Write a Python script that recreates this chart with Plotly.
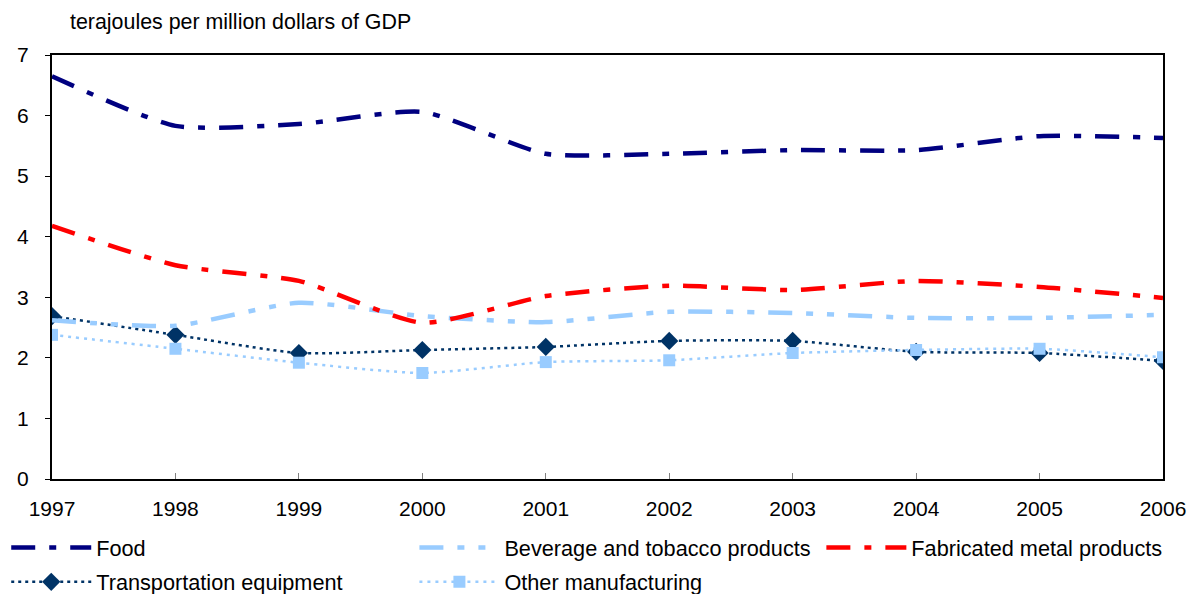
import plotly.graph_objects as go

years = [1997, 1998, 1999, 2000, 2001, 2002, 2003, 2004, 2005, 2006]
food = [6.65, 5.83, 5.86, 6.06, 5.37, 5.37, 5.43, 5.43, 5.66, 5.63]
beverage = [2.62, 2.53, 2.91, 2.69, 2.59, 2.76, 2.74, 2.66, 2.66, 2.71]
fabricated = [4.18, 3.53, 3.27, 2.58, 3.02, 3.19, 3.12, 3.27, 3.17, 2.99]
transport = [2.69, 2.38, 2.08, 2.13, 2.18, 2.28, 2.28, 2.10, 2.08, 1.95]
other = [2.38, 2.15, 1.92, 1.75, 1.93, 1.96, 2.08, 2.13, 2.15, 2.01]
tick_years = [str(y) for y in years]

FONT = "Liberation Sans, Arial, sans-serif"
LDASH = "24px,14px,7px,14px"
LDDASH = "24px,14px,7px,14px,7px,14px"
SM = 0.6

fig = go.Figure()
fig.add_trace(go.Scatter(x=years, y=food, name="Food", mode="lines",
                         line=dict(color="#000080", width=4.5, dash=LDASH, shape="spline", smoothing=SM),
                         legend="legend", legendgroup="a"))
fig.add_trace(go.Scatter(x=years, y=transport, name="Transportation equipment", mode="lines+markers",
                         line=dict(color="#003366", width=2.5, dash="3px,4px", shape="spline", smoothing=SM),
                         marker=dict(symbol="diamond", size=14, color="#003366"),
                         legend="legend", legendgroup="b"))
fig.add_trace(go.Scatter(x=years, y=beverage, name="Beverage and tobacco products", mode="lines",
                         line=dict(color="#99CCFF", width=4.5, dash=LDDASH, shape="spline", smoothing=SM),
                         legend="legend2", legendgroup="c"))
fig.add_trace(go.Scatter(x=years, y=other, name="Other manufacturing", mode="lines+markers",
                         line=dict(color="#99CCFF", width=2.5, dash="3px,5px", shape="spline", smoothing=SM),
                         marker=dict(symbol="square", size=12, color="#99CCFF"),
                         legend="legend2", legendgroup="d"))
fig.add_trace(go.Scatter(x=years, y=fabricated, name="Fabricated metal products", mode="lines",
                         line=dict(color="#FF0000", width=4.5, dash=LDASH, shape="spline", smoothing=SM),
                         legend="legend3", legendgroup="e"))

leg_common = dict(orientation="v", yanchor="top", y=-0.1132, xanchor="left",
                  font=dict(family=FONT, size=21.7, color="#000000"),
                  bgcolor="rgba(0,0,0,0)", tracegroupgap=3, itemwidth=80,
                  traceorder="grouped")

fig.update_layout(
    width=1190, height=594,
    margin=dict(l=52, r=27, t=55, b=115, autoexpand=False),
    paper_bgcolor="white", plot_bgcolor="white",
    font=dict(family=FONT, size=21, color="#000000"),
    showlegend=True,
    legend=dict(x=-0.0412, **leg_common),
    legend2=dict(x=0.3262, **leg_common),
    legend3=dict(x=0.6925, **leg_common),
    xaxis=dict(range=[1997, 2006], tickmode="array", tickvals=years, ticktext=tick_years,
               showgrid=False, zeroline=False, showline=True, linecolor="#000000", linewidth=2,
               mirror=True, ticks="inside", ticklen=6, tickcolor="#808080", tickwidth=1,
               ticklabelstandoff=10, tickfont=dict(family=FONT, size=21)),
    yaxis=dict(range=[0, 7], dtick=1, showgrid=False, zeroline=False, showline=True,
               linecolor="#000000", linewidth=2, mirror=True, ticks="outside", ticklen=5,
               tickcolor="#000000", ticklabelstandoff=12, tickfont=dict(family=FONT, size=21)),
    annotations=[dict(text="terajoules per million dollars of GDP", xref="paper", yref="paper",
                      x=0.0144, y=1.078, xanchor="left", yanchor="middle", showarrow=False,
                      font=dict(family=FONT, size=21.4, color="#000000"))],
)

fig.write_html("out.html")
